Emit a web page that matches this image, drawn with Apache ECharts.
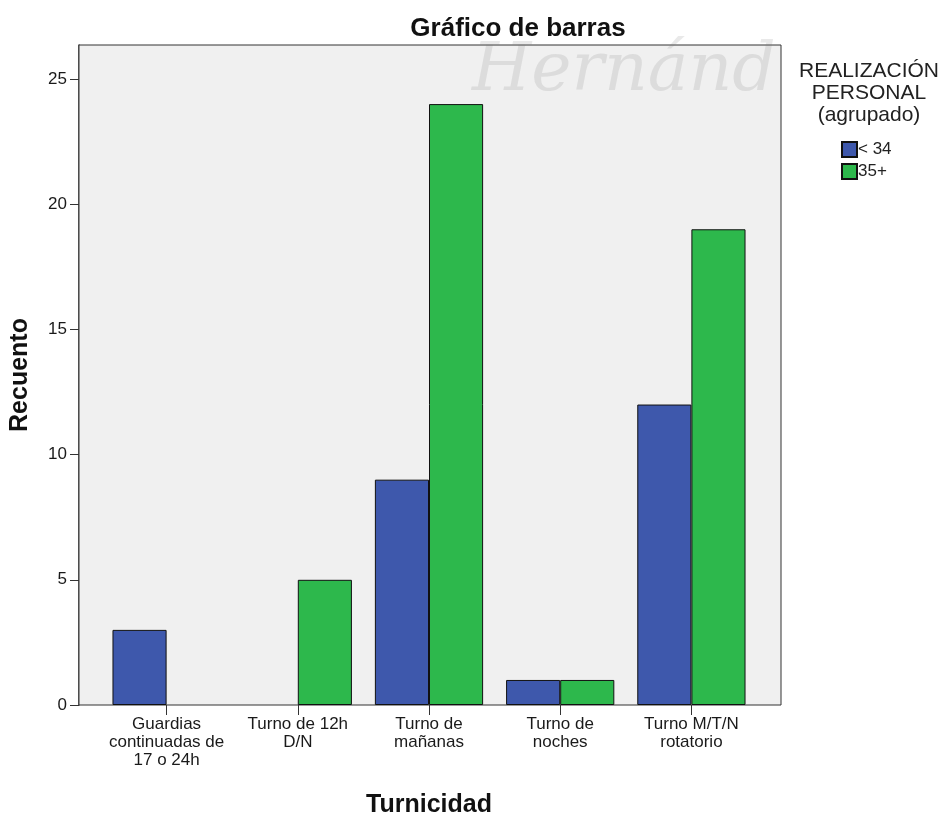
<!DOCTYPE html>
<html><head><meta charset="utf-8">
<script src="https://cdn.jsdelivr.net/npm/echarts@6/dist/echarts.min.js"></script>
<style>html,body{margin:0;padding:0;background:#fff}#c{width:940px;height:816px}</style>
</head><body><div id="c"></div>
<script>
const categories = ['Guardias\ncontinuadas de\n17 o 24h', 'Turno de 12h\nD/N', 'Turno de\nmañanas', 'Turno de\nnoches', 'Turno M/T/N\nrotatorio'];
const seriesNames = ['< 34', '35+'];
const valuesLow = [3, 0, 9, 1, 12];
const valuesHigh = [0, 5, 24, 1, 19];
const yTicks = [0, 5, 10, 15, 20, 25];

const F = 'Liberation Sans, Arial, sans-serif';
const toData = arr => arr.map(v => v === 0 ? {value: v, itemStyle: {borderWidth: 0}} : v);
const chart = echarts.init(document.getElementById('c'), null, {renderer: 'canvas'});
chart.setOption({
  backgroundColor: '#ffffff',
  animation: false,
  title: [
    {text: 'Gráfico de barras', left: 513, top: 11, textAlign: 'center',
     textStyle: {fontFamily: F, fontSize: 26, fontWeight: 'bold', color: '#111'}},
    {text: 'REALIZACIÓN\nPERSONAL\n(agrupado)', left: 864, top: 55, textAlign: 'center',
     textStyle: {fontFamily: F, fontSize: 21, fontWeight: 'normal', color: '#222', lineHeight: 22}}
  ],
  graphic: [
    {type: 'text', left: 472, top: 38, z: 50, silent: true,
     style: {text: 'Hernánd', font: 'italic 68px "DejaVu Serif", serif', fill: 'rgba(120,120,120,0.16)'}}
  ],
  legend: {
    orient: 'vertical', left: 836, top: 136, itemWidth: 15, itemHeight: 15, itemGap: 5,
    icon: 'rect',
    textStyle: {fontFamily: F, fontSize: 17, color: '#222', padding: [0, 0, 0, -4]},
    data: seriesNames
  },
  grid: [
    {left: 79, top: 45, width: 702, height: 660, show: true, backgroundColor: '#f0f0f0',
     borderColor: '#333', borderWidth: 1, z: 1, outerBoundsMode: 'none', containLabel: false},
    {left: 101, top: 45, width: 656, height: 660, show: false, outerBoundsMode: 'none', containLabel: false}
  ],
  xAxis: [
    {gridIndex: 0, type: 'value', show: false, min: 0, max: 1},
    {gridIndex: 1, type: 'category', data: categories, boundaryGap: true,
     axisLine: {show: false},
     axisTick: {show: true, alignWithLabel: true, length: 10, lineStyle: {color: '#333'}},
     axisLabel: {fontFamily: F, fontSize: 17, color: '#1a1a1a', lineHeight: 18, margin: 10, interval: 0},
     name: 'Turnicidad', nameLocation: 'middle', nameGap: 88,
     nameTextStyle: {fontFamily: F, fontSize: 25, fontWeight: 'bold', color: '#111'}}
  ],
  yAxis: [
    {gridIndex: 0, type: 'value', show: false, min: 0, max: 1},
    {gridIndex: 1, type: 'value', min: 0, max: 26.36, interval: 5, offset: 22,
     axisLine: {show: true, lineStyle: {color: '#333', width: 1.5}},
     axisTick: {show: true, length: 9, customValues: yTicks, lineStyle: {color: '#333'}},
     splitLine: {show: false},
     axisLabel: {fontFamily: F, fontSize: 17, color: '#1a1a1a', margin: 12, customValues: yTicks},
     name: 'Recuento', nameLocation: 'middle', nameGap: 46, nameRotate: 90,
     nameTextStyle: {fontFamily: F, fontSize: 25, fontWeight: 'bold', color: '#111'}}
  ],
  series: [
    {name: seriesNames[0], type: 'bar', xAxisIndex: 1, yAxisIndex: 1, data: toData(valuesLow),
     barGap: '0%', barCategoryGap: '17.5%', z: 3,
     itemStyle: {color: '#3e58ac', borderColor: '#111', borderWidth: 1}},
    {name: seriesNames[1], type: 'bar', xAxisIndex: 1, yAxisIndex: 1, data: toData(valuesHigh),
     barGap: '0%', barCategoryGap: '17.5%', z: 3,
     itemStyle: {color: '#2db84c', borderColor: '#111', borderWidth: 1}}
  ]
});
</script></body></html>
